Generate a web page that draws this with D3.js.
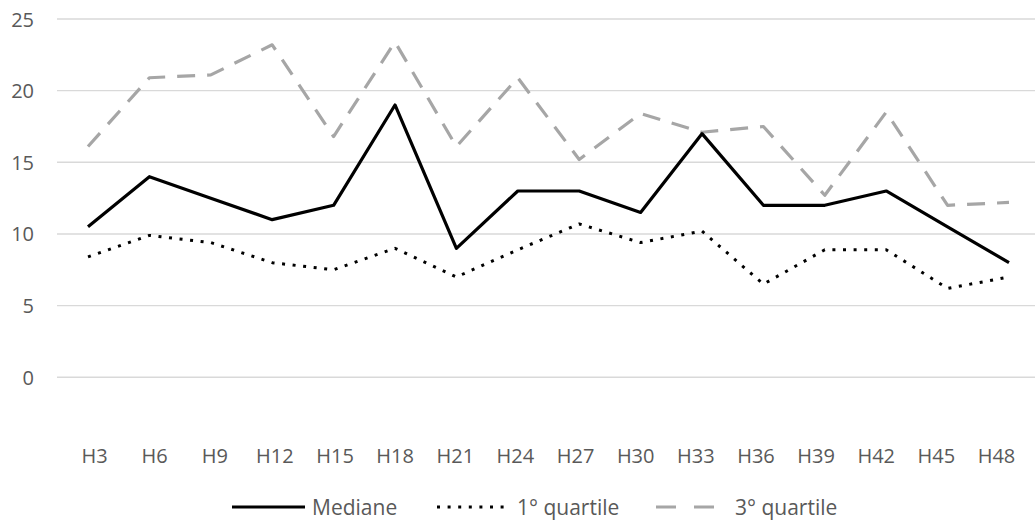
<!DOCTYPE html>
<html>
<head>
<meta charset="utf-8">
<script src="https://cdn.jsdelivr.net/npm/d3@7"></script>
<style>
  html, body { margin: 0; padding: 0; background: #fff; }
  svg { display: block; }
  text { font-family: "Open Sans", Lato, sans-serif; fill: #595959; }
</style>
</head>
<body>
<svg id="chart" width="1035" height="524"></svg>
<script>
// Categories (hours) and the three series
const categories = ["H3","H6","H9","H12","H15","H18","H21","H24","H27","H30","H33","H36","H39","H42","H45","H48"];
const mediane   = [10.5, 14, 12.5, 11, 12, 19, 9, 13, 13, 11.5, 17, 12, 12, 13, 10.5, 8];
const quartile1 = [8.4, 9.9, 9.4, 8.0, 7.5, 9.0, 7.0, 8.9, 10.7, 9.4, 10.2, 6.5, 8.9, 8.9, 6.2, 7.0];
const quartile3 = [16.1, 20.9, 21.1, 23.2, 16.8, 23.4, 16.1, 20.9, 15.2, 18.4, 17.1, 17.5, 12.7, 18.5, 12.0, 12.2];
const yTicks = [0, 5, 10, 15, 20, 25];

const seriesList = [
  { name: "Mediane",      values: mediane,   color: "#000000", width: 3.2, dash: null,    legendDash: null },
  { name: "1° quartile",  values: quartile1, color: "#000000", width: 3,   dash: "3,7.6", legendDash: "3,7.6" },
  { name: "3° quartile",  values: quartile3, color: "#a6a6a6", width: 3.2, dash: "18,12", legendDash: "20,18" }
];

const svg = d3.select("#chart");

const x = d3.scalePoint().domain(categories).range([88, 1009]);
const xLabel = d3.scalePoint().domain(categories).range([94.5, 996.5]);
const y = d3.scaleLinear().domain([0, 25]).range([377.3, 19]);

// Horizontal gridlines
svg.append("g")
  .selectAll("line")
  .data(yTicks)
  .join("line")
  .attr("x1", 57).attr("x2", 1035)
  .attr("y1", d => y(d)).attr("y2", d => y(d))
  .attr("stroke", "#d9d9d9").attr("stroke-width", 1.4);

// Value axis labels
svg.append("g")
  .selectAll("text")
  .data(yTicks)
  .join("text")
  .attr("x", 34).attr("y", d => y(d))
  .attr("text-anchor", "end")
  .attr("dominant-baseline", "central")
  .style("font-size", "20px")
  .text(d => d);

// Category axis labels
svg.append("g")
  .selectAll("text")
  .data(categories)
  .join("text")
  .attr("x", d => xLabel(d)).attr("y", 455)
  .attr("text-anchor", "middle")
  .attr("dominant-baseline", "central")
  .style("font-size", "20px")
  .text(d => d);

// Series lines
const line = d3.line()
  .x((d, i) => x(categories[i]))
  .y(d => y(d));

seriesList.slice().reverse().forEach(s => {
  svg.append("path")
    .datum(s.values)
    .attr("d", line)
    .attr("fill", "none")
    .attr("stroke", s.color)
    .attr("stroke-width", s.width)
    .attr("stroke-linejoin", "round")
    .attr("stroke-dasharray", s.dash);
});

// Legend
const legendItems = [
  { s: seriesList[0], x1: 232, x2: 305, tx: 312 },
  { s: seriesList[1], x1: 437, x2: 510, tx: 517 },
  { s: seriesList[2], x1: 656, x2: 716, tx: 735 }
];
const legend = svg.append("g");
legendItems.forEach(it => {
  legend.append("line")
    .attr("x1", it.x1).attr("x2", it.x2)
    .attr("y1", 507).attr("y2", 507)
    .attr("stroke", it.s.color)
    .attr("stroke-width", it.s.width)
    .attr("stroke-dasharray", it.s.legendDash);
  legend.append("text")
    .attr("x", it.tx).attr("y", 507)
    .attr("dominant-baseline", "central")
    .style("font-size", "21px")
    .text(it.s.name);
});
</script>
</body>
</html>
